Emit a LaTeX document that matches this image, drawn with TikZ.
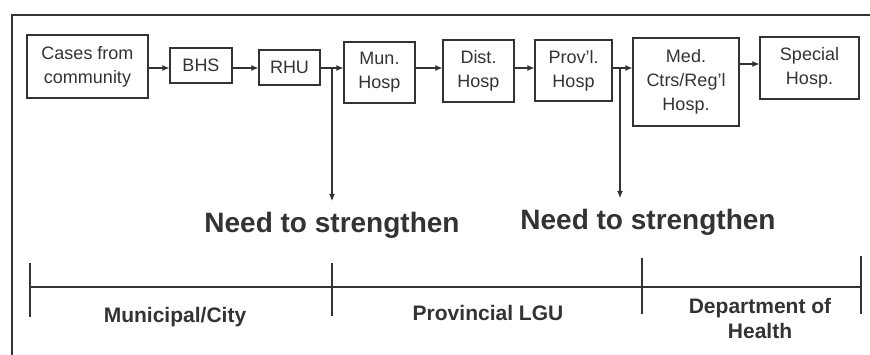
\documentclass[tikz,border=0pt]{standalone}
\usepackage{fontspec}
\setmainfont{Liberation Sans}
\usetikzlibrary{arrows.meta}
\definecolor{ink}{HTML}{333333}
\tikzset{
  box/.style={draw=ink, line width=1.1pt, text=ink, align=center, inner sep=0pt,
    font=\fontsize{18}{24}\selectfont},
  arr/.style={draw=ink, line width=1.1pt, -{Latex[length=7pt,width=6pt]}},
  need/.style={text=ink, font=\bfseries\fontsize{28}{32}\selectfont, inner sep=0pt},
  lvl/.style={text=ink, font=\bfseries\fontsize{21}{25}\selectfont, align=center, inner sep=0pt},
  tl/.style={draw=ink, line width=1.1pt},
}
\begin{document}
\begin{tikzpicture}[x=1pt,y=-1pt]
\useasboundingbox (0,0) rectangle (870,355);
\fill[white] (0,0) rectangle (870,355);
% frame
\draw[ink, line width=1.3pt] (12,360) -- (12,15) -- (875,15);
% boxes
\node[box, minimum width=121pt, minimum height=63pt] (cases) at (87.5,66.5) {Cases from\\community};
\node[box, minimum width=62pt, minimum height=35pt] (bhs) at (201,65.5) {BHS};
\node[box, minimum width=61pt, minimum height=35pt] (rhu) at (289.5,67.5) {RHU};
\node[box, minimum width=71pt, minimum height=61pt] (mun) at (379.5,72.5) {Mun.\\Hosp};
\node[box, minimum width=71pt, minimum height=62pt] (dist) at (478.5,71) {Dist.\\Hosp};
\node[box, minimum width=77pt, minimum height=61pt] (prov) at (573.5,70.5) {Prov'l.\\Hosp};
\node[box, minimum width=106pt, minimum height=88pt] (med) at (686,82) {Med.\\Ctrs/Reg'l\\Hosp.};
\node[box, minimum width=99pt, minimum height=62pt] (spec) at (809.5,68) {Special\\Hosp.};
% row of arrows
\coordinate (row) at (0,68);
\coordinate (row2) at (0,64);
\draw[arr] (cases.east |- row) -- (bhs.west |- row);
\draw[arr] (bhs.east |- row) -- (rhu.west |- row);
\draw[arr] (rhu.east |- row) -- (mun.west |- row);
\draw[arr] (mun.east |- row) -- (dist.west |- row);
\draw[arr] (dist.east |- row) -- (prov.west |- row);
\draw[arr] (prov.east |- row) -- (med.west |- row);
\draw[arr] (med.east |- row2) -- (spec.west |- row2);
% need to strengthen
\node[need] (need1) at (332,225) {Need to strengthen};
\node[need] (need2) at (648,222) {Need to strengthen};
\coordinate (j1) at (332,68);
\coordinate (j2) at (620,68);
\draw[arr] (j1) -- (332,201);
\draw[arr] (j2) -- (620,198);
% timeline
\coordinate (t0) at (30,287);
\coordinate (t1) at (332,287);
\coordinate (t2) at (642,287);
\coordinate (t3) at (861,287);
\draw[tl] (t0) -- (t3);
\draw[tl] (30,263) -- (30,317);
\draw[tl] (332,263) -- (332,316);
\draw[tl] (642,258) -- (642,314);
\draw[tl] (861,256) -- (861,314);
\node[lvl] (l1) at (175,317) {Municipal/City};
\node[lvl] (l2) at (488,313) {Provincial LGU};
\node[lvl] (l3) at (760,318) {Department of\\Health};
\end{tikzpicture}
\end{document}
